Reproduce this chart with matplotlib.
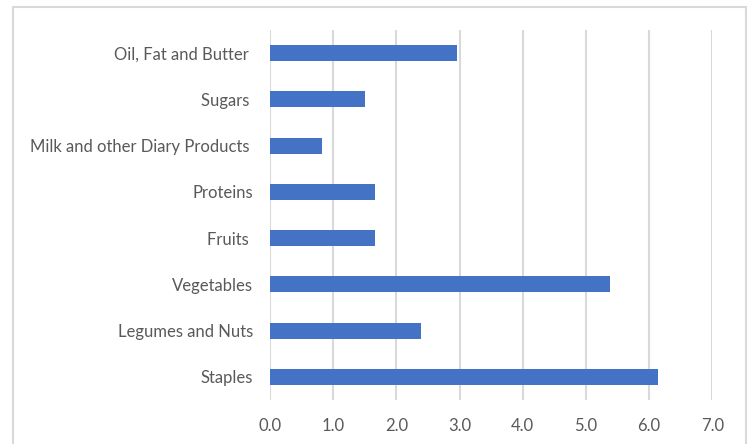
import matplotlib
matplotlib.use("Agg")
import matplotlib.pyplot as plt
from matplotlib.patches import Rectangle

# Food group values, bottom to top as drawn
categories = ["Staples", "Legumes and Nuts", "Vegetables", "Fruits ", "Proteins",
              "Milk and other Diary Products ", "Sugars ", "Oil, Fat and Butter "]
values = [6.14, 2.39, 5.38, 1.66, 1.66, 0.83, 1.50, 2.96]
xticks = [0, 1, 2, 3, 4, 5, 6, 7]

text_color = "#595959"
grid_color = "#d9d9d9"
bar_color = "#4472c4"

plt.rcParams["font.family"] = ["Lato", "DejaVu Sans"]

W, H = 752, 444
fig = plt.figure(figsize=(W / 100, H / 100), dpi=100)
ax = fig.add_axes([270 / W, (H - 400) / H, (712.3 - 270) / W, (400 - 30) / H])

ypos = range(len(categories))
ax.barh(ypos, values, height=0.35, color=bar_color, zorder=3)

ax.set_xlim(0, 7)
ax.set_ylim(-0.5, len(categories) - 0.5)
ax.set_xticks(xticks)
ax.set_xticklabels([f"{t:.1f}" for t in xticks])
ax.set_yticks(list(ypos))
ax.set_yticklabels(categories)

ax.grid(axis="x", color=grid_color, linewidth=1.5, zorder=0)
for side in ["top", "right", "bottom", "left"]:
    ax.spines[side].set_visible(False)
ax.tick_params(axis="both", length=0, labelsize=12, labelcolor=text_color)
ax.tick_params(axis="y", pad=12)
ax.tick_params(axis="x", pad=13)

# Outer chart border
fig.patches.append(Rectangle((12.5 / W, -0.05), (746 - 12.5) / W, 1.05 - 7.5 / H,
                             transform=fig.transFigure, fill=False,
                             edgecolor=grid_color, linewidth=1.5))

fig.savefig("out.png", dpi=100)
